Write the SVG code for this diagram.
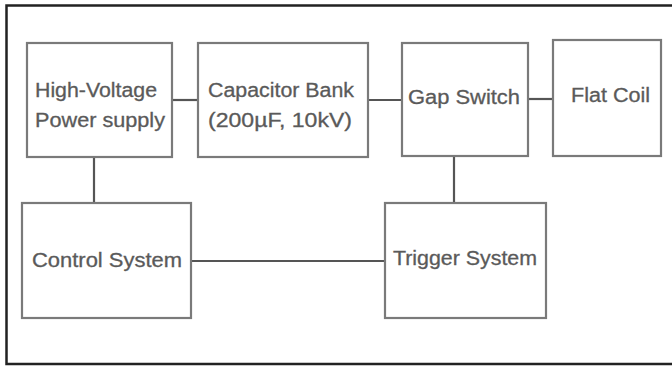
<svg xmlns="http://www.w3.org/2000/svg" width="672" height="366" viewBox="0 0 672 366">
<style>
.box{fill:#fff;stroke:#7a7a7a;stroke-width:2.2}
.t{font-family:"Liberation Sans",Arial,sans-serif;font-size:20px;fill:#5a5a5a;stroke:#5a5a5a;stroke-width:0.3}
.c{stroke:#555;stroke-width:2.2;fill:none}
</style>
<rect width="672" height="366" fill="#fff"/>
<path d="M672,5.5 H6.5 V364 H672" fill="none" stroke="#222" stroke-width="2.5"/>
<g id="connectors">
<line class="c" x1="172" y1="100" x2="198" y2="100"/>
<line class="c" x1="368" y1="100" x2="402" y2="100"/>
<line class="c" x1="528" y1="99" x2="553" y2="99"/>
<line class="c" x1="94" y1="157" x2="94" y2="203"/>
<line class="c" x1="454" y1="156" x2="454" y2="203"/>
<line class="c" x1="191" y1="261" x2="385" y2="261"/>
</g>
<g id="hv"><rect class="box" x="27" y="43" width="145" height="114"/>
<text class="t" x="35" y="97" textLength="122" lengthAdjust="spacingAndGlyphs">High-Voltage</text>
<text class="t" x="35" y="127" textLength="130" lengthAdjust="spacingAndGlyphs">Power supply</text></g>
<g id="cap"><rect class="box" x="198" y="43" width="170" height="114"/>
<text class="t" x="208" y="97" textLength="146" lengthAdjust="spacingAndGlyphs">Capacitor Bank</text>
<text class="t" x="208" y="127" textLength="144" lengthAdjust="spacingAndGlyphs">(200µF, 10kV)</text></g>
<g id="gap"><rect class="box" x="402" y="43" width="126" height="113"/>
<text class="t" x="408" y="104" textLength="112" lengthAdjust="spacingAndGlyphs">Gap Switch</text></g>
<g id="coil"><rect class="box" x="553" y="40" width="108" height="116"/>
<text class="t" x="571" y="102" textLength="79" lengthAdjust="spacingAndGlyphs">Flat Coil</text></g>
<g id="control"><rect class="box" x="22" y="203" width="169" height="115"/>
<text class="t" x="32" y="267" textLength="150" lengthAdjust="spacingAndGlyphs">Control System</text></g>
<g id="trigger"><rect class="box" x="385" y="203" width="161" height="115"/>
<text class="t" x="393" y="265" textLength="144" lengthAdjust="spacingAndGlyphs">Trigger System</text></g>
</svg>
